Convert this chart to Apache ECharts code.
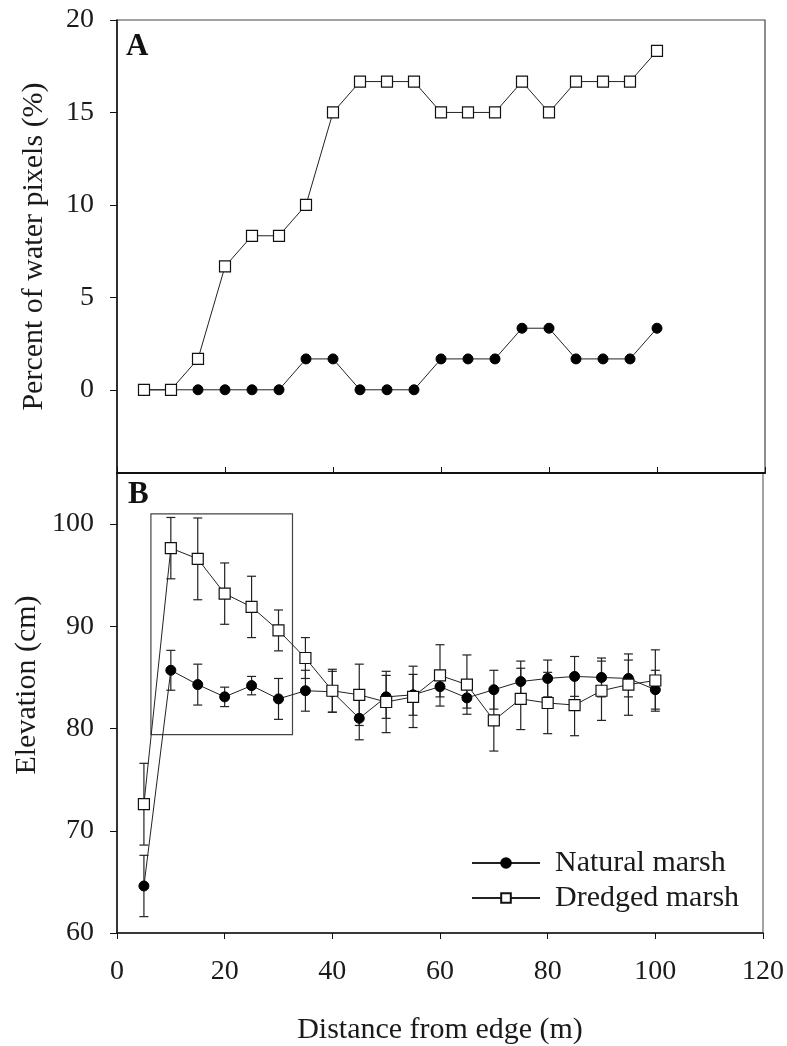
<!DOCTYPE html>
<html>
<head>
<meta charset="utf-8">
<script src="https://cdn.jsdelivr.net/npm/echarts@6/dist/echarts.min.js"></script>
<style>
html,body{margin:0;padding:0;background:#fff;}
#chart{width:787px;height:1046px;}
</style>
</head>
<body>
<div id="chart"></div>
<script>
// ---- data ----
const distance = [5,10,15,20,25,30,35,40,45,50,55,60,65,70,75,80,85,90,95,100];
// Panel A: percent of water pixels (%)
const naturalWater = [0,0,0,0,0,0,1.67,1.67,0,0,0,1.67,1.67,1.67,3.33,3.33,1.67,1.67,1.67,3.33];
const dredgedWater = [0,0,1.67,6.67,8.33,8.33,10,15,16.67,16.67,16.67,15,15,15,16.67,15,16.67,16.67,16.67,18.33];
// Panel B: elevation (cm) with standard errors
const naturalElev = [64.6,85.7,84.3,83.1,84.2,82.9,83.7,83.6,81.0,83.1,83.3,84.1,83.0,83.8,84.6,84.9,85.1,85.0,84.9,83.8];
const naturalSE   = [3.0,1.95,2.0,0.95,0.9,2.0,2.0,2.0,2.1,2.1,2.0,1.0,1.0,1.9,2.0,1.8,1.95,1.9,1.8,1.9];
const dredgedElev = [72.6,97.65,96.6,93.2,91.9,89.6,86.9,83.7,83.3,82.6,83.1,85.2,84.3,80.8,82.9,82.5,82.3,83.7,84.3,84.7];
const dredgedSE   = [4.0,3.0,4.0,3.0,3.0,2.0,2.0,2.1,3.0,3.0,3.0,3.0,2.9,3.0,3.0,3.0,3.0,2.9,3.0,3.0];
// highlighted region in panel B [x0, y0, x1, y1]
const boxRegion = [6.3, 101.0, 32.6, 79.4];
// tick labels
const xTicks = [0,20,40,60,80,100,120];
const yTicksA = [0,5,10,15,20];
const yTicksB = [60,70,80,90,100];
const seriesNames = ['Natural marsh','Dredged marsh'];
const panelLabels = ['A','B'];

const FONT = 'Liberation Serif';
const INK = '#1a1a1a';

const pairs = (ys) => distance.map((d,i)=>[d, ys[i]]);
const errData = (m, se) => distance.map((d,i)=>[d, m[i]-se[i], m[i]+se[i]]);

function errRender(params, api){
  const x = api.value(0);
  const lo = api.coord([x, api.value(1)]);
  const hi = api.coord([x, api.value(2)]);
  const w = 4.5;
  const st = {stroke:'#222', lineWidth:1.2};
  return {type:'group', children:[
    {type:'line', shape:{x1:lo[0],y1:lo[1],x2:hi[0],y2:hi[1]}, style:st},
    {type:'line', shape:{x1:lo[0]-w,y1:lo[1],x2:lo[0]+w,y2:lo[1]}, style:st},
    {type:'line', shape:{x1:hi[0]-w,y1:hi[1],x2:hi[0]+w,y2:hi[1]}, style:st}
  ]};
}

const chart = echarts.init(document.getElementById('chart'), null, {renderer:'canvas'});

const axisLabelStyle = {color:INK, fontFamily:FONT, fontSize:28};

const natStyle = {
  type:'line', symbol:'circle', symbolSize:10,
  lineStyle:{color:'#222', width:1}, itemStyle:{color:'#000', borderColor:'#000', borderWidth:1},
  z:3
};
const dreStyle = {
  type:'line', symbol:'rect', symbolSize:11,
  lineStyle:{color:'#222', width:1}, itemStyle:{color:'#fff', borderColor:'#111', borderWidth:1.2},
  z:4
};

const option = {
  backgroundColor:'#fff',
  animation:false,
  textStyle:{fontFamily:FONT},
  grid:[
    {left:117, right:22, top:20, height:453, show:true, borderColor:'#444', borderWidth:1.2, backgroundColor:'transparent'},
    {left:117, right:22, top:473, height:462, show:true, borderColor:'#666', borderWidth:1.2, backgroundColor:'transparent'}
  ],
  xAxis:[
    {gridIndex:0, type:'value', min:0, max:120, interval:20,
     axisLine:{show:true, onZero:false, lineStyle:{color:'#111', width:2}},
     axisTick:{show:true, inside:true, length:6, lineStyle:{color:'#111', width:1}},
     axisLabel:{show:false}, splitLine:{show:false}},
    {gridIndex:1, type:'value', min:0, max:120, interval:20,
     axisLine:{show:true, onZero:false, lineStyle:{color:'#111', width:1.5}},
     axisTick:{show:true, inside:false, length:6, lineStyle:{color:'#111', width:1}},
     axisLabel:Object.assign({margin:25, customValues:xTicks}, axisLabelStyle),
     splitLine:{show:false},
     name:'Distance from edge (m)', nameLocation:'middle', nameGap:82,
     nameTextStyle:{color:INK, fontFamily:FONT, fontSize:30}}
  ],
  yAxis:[
    {gridIndex:0, type:'value', min:-4.5, max:20,
     axisLine:{show:true, onZero:false, lineStyle:{color:'#111', width:1.5}},
     axisTick:{show:true, inside:false, length:7, customValues:yTicksA, lineStyle:{color:'#111', width:1}},
     axisLabel:Object.assign({margin:23, customValues:yTicksA}, axisLabelStyle),
     splitLine:{show:false},
     name:'Percent of water pixels (%)', nameLocation:'middle', nameGap:68,
     nameTextStyle:{color:INK, fontFamily:FONT, fontSize:30}},
    {gridIndex:1, type:'value', min:60, max:105,
     axisLine:{show:true, onZero:false, lineStyle:{color:'#111', width:1.5}},
     axisTick:{show:true, inside:false, length:7, customValues:yTicksB, lineStyle:{color:'#111', width:1}},
     axisLabel:Object.assign({margin:23, customValues:yTicksB}, axisLabelStyle),
     splitLine:{show:false}}
  ],
  legend:{
    orient:'vertical', left:471, top:848, padding:0,
    data:seriesNames,
    itemWidth:68, itemHeight:12, itemGap:5,
    textStyle:{color:INK, fontFamily:FONT, fontSize:30, lineHeight:30, padding:[0,0,0,10]}
  },
  graphic:[
    {type:'text', left:126, top:31, style:{text:panelLabels[0], font:'bold 31px "Liberation Serif"', fill:'#111'}},
    {type:'text', left:128, top:479, style:{text:panelLabels[1], font:'bold 31px "Liberation Serif"', fill:'#111'}},
    {type:'text', x:27, y:685, rotation:Math.PI/2, style:{text:'Elevation (cm)', font:'30px "Liberation Serif"', fill:INK, align:'center', verticalAlign:'middle'}}
  ],
  series:[
    Object.assign({name:seriesNames[0], xAxisIndex:0, yAxisIndex:0, data:pairs(naturalWater)}, natStyle),
    Object.assign({name:seriesNames[1], xAxisIndex:0, yAxisIndex:0, data:pairs(dredgedWater)}, dreStyle),
    {type:'custom', name:'natErr', xAxisIndex:1, yAxisIndex:1, renderItem:errRender, data:errData(naturalElev, naturalSE), z:1, silent:true},
    {type:'custom', name:'dreErr', xAxisIndex:1, yAxisIndex:1, renderItem:errRender, data:errData(dredgedElev, dredgedSE), z:1, silent:true},
    Object.assign({name:seriesNames[0], xAxisIndex:1, yAxisIndex:1, data:pairs(naturalElev)}, natStyle),
    Object.assign({name:seriesNames[1], xAxisIndex:1, yAxisIndex:1, data:pairs(dredgedElev),
      markArea:{silent:true, itemStyle:{color:'rgba(0,0,0,0)', borderColor:'#444', borderWidth:1.2},
        data:[[{coord:[boxRegion[0], boxRegion[1]]},{coord:[boxRegion[2], boxRegion[3]]}]]}}, dreStyle)
  ]
};
chart.setOption(option);
</script>
</body>
</html>
